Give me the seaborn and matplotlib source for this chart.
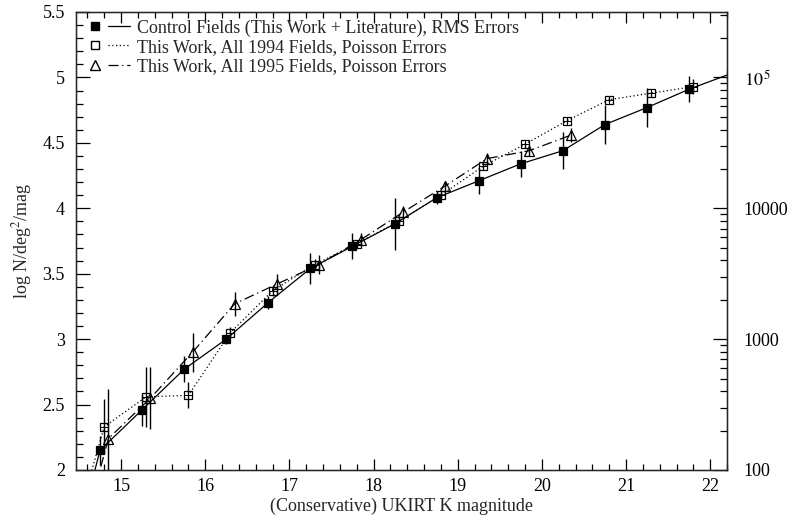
import numpy as np
import pandas as pd
import matplotlib
matplotlib.use("Agg")
import matplotlib.pyplot as plt
import seaborn as sns
from matplotlib.lines import Line2D
from matplotlib.legend_handler import HandlerTuple
from matplotlib.ticker import MultipleLocator, FixedLocator, FuncFormatter, NullFormatter

# ---- data ----
ctrl_k = [14.25, 14.75, 15.25, 15.75, 16.25, 16.75, 17.25, 17.75, 18.25, 18.75,
          19.25, 19.75, 20.25, 20.75, 21.25, 21.75, 22.25]
ctrl_logn = [0.90, 2.15, 2.46, 2.77, 3.00, 3.28, 3.54, 3.71, 3.88, 4.08,
             4.21, 4.34, 4.44, 4.64, 4.77, 4.91, 5.03]
ctrl_err = [0.10, 0.11, 0.12, 0.10, 0.04, 0.05, 0.12, 0.10, 0.20, 0.05,
            0.10, 0.10, 0.14, 0.15, 0.15, 0.10, 0.10]

f94_k = [14.30, 14.80, 15.30, 15.80, 16.30, 16.80, 17.30, 17.80, 18.30, 18.80,
         19.30, 19.80, 20.30, 20.80, 21.30, 21.80]
f94_logn = [1.20, 2.33, 2.56, 2.57, 3.05, 3.37, 3.57, 3.73, 3.90, 4.10,
            4.32, 4.49, 4.67, 4.83, 4.88, 4.93]
f94_err = [0.20, 0.21, 0.23, 0.10, 0.04, 0.04, 0.04, 0.03, 0.03, 0.03,
           0.02, 0.02, 0.02, 0.02, 0.02, 0.06]

f95_k = [14.35, 14.85, 15.35, 15.85, 16.35, 16.85, 17.35, 17.85, 18.35, 18.85,
         19.35, 19.85, 20.35]
f95_logn = [1.05, 2.24, 2.55, 2.90, 3.27, 3.42, 3.57, 3.76, 3.97, 4.17,
            4.38, 4.44, 4.56]
f95_err = [0.30, 0.38, 0.24, 0.15, 0.09, 0.08, 0.07, 0.05, 0.05, 0.04,
           0.04, 0.04, 0.05]

labels = ["Control Fields (This Work + Literature), RMS Errors",
          "This Work, All 1994 Fields, Poisson Errors",
          "This Work, All 1995 Fields, Poisson Errors"]

df = pd.concat([
    pd.DataFrame({"K": ctrl_k, "logN": ctrl_logn, "err": ctrl_err, "set": labels[0]}),
    pd.DataFrame({"K": f94_k, "logN": f94_logn, "err": f94_err, "set": labels[1]}),
    pd.DataFrame({"K": f95_k, "logN": f95_logn, "err": f95_err, "set": labels[2]}),
], ignore_index=True)

sns.set_style("ticks")
plt.rcParams['font.family'] = ['Liberation Serif', 'DejaVu Serif']
plt.rcParams['mathtext.fontset'] = 'stix'

fig = plt.figure(figsize=(7.91, 5.2), dpi=100)
ax = fig.add_axes([76 / 791, 1 - 470 / 520, (727 - 76) / 791, (470 - 12) / 520])

DOT = (0, (1, 2))
DASHDOT = (0, (8, 3, 1, 3))
styles = {
    labels[0]: dict(ls='-', marker='s', mfc='black', ms=6),
    labels[1]: dict(ls=DOT, marker='s', mfc='none', ms=5.5),
    labels[2]: dict(ls=DASHDOT, marker='^', mfc='none', ms=6.5),
}

for name in labels:
    sub = df[df["set"] == name]
    st = styles[name]
    sns.lineplot(data=sub, x="K", y="logN", ax=ax, color='black', lw=0.9,
                 linestyle=st['ls'], estimator=None, sort=False, legend=False)
    ax.errorbar(sub["K"], sub["logN"], yerr=sub["err"], fmt='none',
                ecolor='black', elinewidth=1.0, capsize=0)
    ax.plot(sub["K"], sub["logN"], ls='none', marker=st['marker'], ms=st['ms'],
            mfc=st['mfc'], mec='black', mew=0.9, color='black')
    if name == labels[1]:
        ax.plot(sub["K"], sub["logN"], ls='none', marker='+', ms=5.5,
                mec='black', mew=0.7)

ax.set_xlim(14.465, 22.2)
ax.set_ylim(2, 5.5)

ax.xaxis.set_major_locator(MultipleLocator(1))
ax.xaxis.set_minor_locator(MultipleLocator(0.2))
ax.yaxis.set_major_locator(MultipleLocator(0.5))
ax.yaxis.set_minor_locator(MultipleLocator(0.1))
ax.yaxis.set_major_formatter(FuncFormatter(lambda v, p: f"{v:g}"))
ax.tick_params(which='both', direction='in', top=True, right=False,
               labelsize=13, colors='black')
ax.tick_params(axis='y', which='major', length=10, width=0.9, pad=8)
ax.tick_params(axis='y', which='minor', length=5, width=0.9)
ax.tick_params(axis='x', which='major', length=8, width=0.9, pad=6)
ax.tick_params(axis='x', which='minor', length=4, width=0.9)
for s in ax.spines.values():
    s.set_linewidth(1.0)
    s.set_color('black')

ax.set_xlabel("(Conservative) UKIRT K magnitude", fontsize=13, labelpad=2)
ax.set_ylabel("log N/deg$^2$/mag", fontsize=13, labelpad=6)

ax2 = ax.twinx()
ax2.set_yscale('log')
ax2.set_ylim(10 ** 2, 10 ** 5.5)
ax2.yaxis.set_major_locator(FixedLocator([1e2, 1e3, 1e4, 1e5]))
ax2.yaxis.set_major_formatter(FuncFormatter(
    lambda v, p: {100: "100", 1000: "1000", 10000: "10000"}.get(int(round(v)), r"$10^{\,5}$")))
minor = [m * 10 ** e for e in range(2, 6) for m in range(2, 10) if m * 10 ** e < 10 ** 5.5]
ax2.yaxis.set_minor_locator(FixedLocator(minor))
ax2.yaxis.set_minor_formatter(NullFormatter())
ax2.tick_params(which='both', direction='in', labelsize=13, colors='black', pad=12)
ax2.tick_params(which='major', length=10, width=0.9)
ax2.tick_params(which='minor', length=5, width=0.9)

handles = [
    (Line2D([], [], ls='none', marker='s', ms=6, mfc='black', mec='black'),
     Line2D([], [], ls='-', color='black', lw=0.9)),
    (Line2D([], [], ls='none', marker='s', ms=6, mfc='none', mec='black'),
     Line2D([], [], ls=DOT, color='black', lw=0.9)),
    (Line2D([], [], ls='none', marker='^', ms=7, mfc='none', mec='black'),
     Line2D([], [], ls=DASHDOT, color='black', lw=0.9)),
]
leg = ax.legend(handles, labels, handler_map={tuple: HandlerTuple(ndivide=None, pad=0.1)},
                loc='upper left', frameon=False, fontsize=13, handlelength=2.6,
                handletextpad=0.4, labelspacing=0.12, borderaxespad=0.3,
                borderpad=0.1, bbox_to_anchor=(0.0, 1.0))

fig.savefig("out.png", dpi=100)
